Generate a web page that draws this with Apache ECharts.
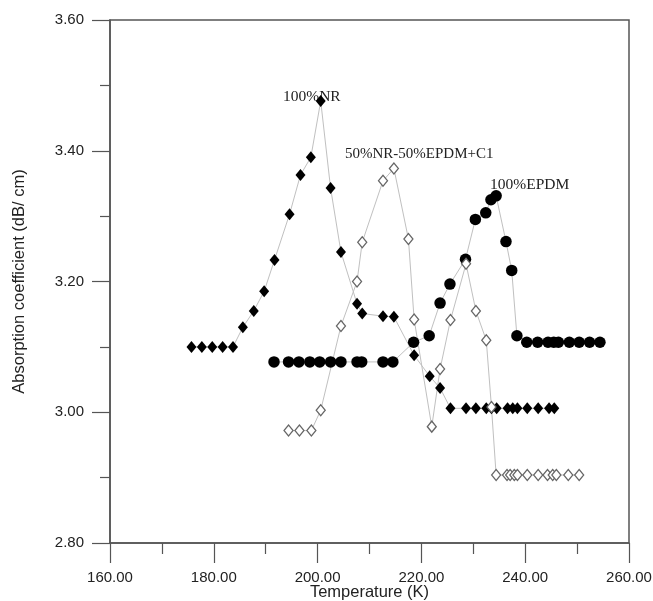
<!DOCTYPE html>
<html style="height:100%;">
<head>
    <meta charset="utf-8">
    <script src="https://cdn.jsdelivr.net/npm/echarts@6/dist/echarts.min.js"></script>
</head>
<body style="height:100%;margin:0;background:#fff;">
    <div id="main" style="width:653px;height:601px;"></div>
</body>
</html>
<script>
    // 100%NR (filled diamonds)
    var nrTemp = [175.7, 177.7, 179.7, 181.7, 183.7, 185.6, 187.7, 189.7, 191.7, 194.6, 196.7, 198.7, 200.6, 202.5,
        204.5, 207.6, 208.6, 212.6, 214.7, 218.6, 221.6, 223.6, 225.6, 228.6, 230.5, 232.5, 233.5, 234.5,
        236.6, 237.6, 238.5, 240.4, 242.5, 244.6, 245.6];
    var nrValue = [3.10, 3.10, 3.10, 3.10, 3.10, 3.13, 3.155, 3.185, 3.233, 3.303, 3.363, 3.39, 3.476, 3.343,
        3.245, 3.166, 3.151, 3.147, 3.146, 3.087, 3.055, 3.037, 3.006, 3.006, 3.006, 3.006, 3.006, 3.006,
        3.006, 3.006, 3.006, 3.006, 3.006, 3.006, 3.006];

    // 50%NR-50%EPDM+C1 (open diamonds)
    var blendTemp = [194.4, 196.5, 198.8, 200.6, 204.5, 207.6, 208.6, 212.6, 214.7, 217.5, 218.6, 222.0, 223.6,
        225.6, 228.6, 230.5, 232.5, 233.5, 234.4, 236.5, 237.1, 237.9, 238.5, 240.4, 242.5, 244.3, 245.3,
        246.0, 248.3, 250.4];
    var blendValue = [2.972, 2.972, 2.972, 3.003, 3.132, 3.200, 3.260, 3.354, 3.373, 3.265, 3.142, 2.978, 3.066,
        3.141, 3.227, 3.155, 3.110, 3.008, 2.904, 2.904, 2.904, 2.904, 2.904, 2.904, 2.904, 2.904, 2.904,
        2.904, 2.904, 2.904];

    // 100%EPDM (filled circles)
    var epdmTemp = [191.6, 194.4, 196.4, 198.5, 200.4, 202.5, 204.5, 207.6, 208.5, 212.6, 214.5, 218.5, 221.5,
        223.6, 225.5, 228.5, 230.4, 232.4, 233.4, 234.4, 236.3, 237.4, 238.4, 240.3, 242.4, 244.4, 245.5,
        246.4, 248.5, 250.4, 252.4, 254.4];
    var epdmValue = [3.077, 3.077, 3.077, 3.077, 3.077, 3.077, 3.077, 3.077, 3.077, 3.077, 3.077, 3.107, 3.117,
        3.167, 3.196, 3.234, 3.295, 3.305, 3.325, 3.331, 3.261, 3.217, 3.117, 3.107, 3.107, 3.107, 3.107,
        3.107, 3.107, 3.107, 3.107, 3.107];

    function pairs(xs, ys) {
        var out = [];
        for (var i = 0; i < xs.length; i++) out.push([xs[i], ys[i]]);
        return out;
    }

    var lineGray = '#c0c0c0';
    var axisColor = '#555';

    var myChart = echarts.init(document.getElementById('main'), null, {renderer: 'canvas'});
    var option = {
        backgroundColor: '#fff',
        animation: false,
        grid: {
            left: 110, right: 24, top: 20, bottom: 58,
            outerBoundsMode: 'none',
            show: true, borderColor: axisColor, borderWidth: 1.5, backgroundColor: 'transparent'
        },
        xAxis: {
            type: 'value',
            min: 160, max: 260, interval: 20,
            name: 'Temperature (K)',
            nameLocation: 'middle',
            nameGap: 41,
            nameMoveOverlap: false,
            nameTextStyle: {fontFamily: 'Liberation Sans', fontSize: 16.5, color: '#222'},
            axisLine: {lineStyle: {color: axisColor, width: 1.5}},
            axisTick: {length: 20, lineStyle: {color: axisColor, width: 1.2}},
            minorTick: {show: true, splitNumber: 2, length: 11, lineStyle: {color: axisColor, width: 1.2}},
            splitLine: {show: false},
            axisLabel: {
                margin: 27, fontFamily: 'Liberation Sans', fontSize: 15, color: '#222',
                formatter: function (v) { return v.toFixed(2); }
            }
        },
        yAxis: {
            type: 'value',
            min: 2.8, max: 3.6, interval: 0.2,
            name: 'Absorption coefficient (dB/ cm)',
            nameLocation: 'middle',
            nameGap: 82,
            nameMoveOverlap: false,
            nameTextStyle: {fontFamily: 'Liberation Sans', fontSize: 16.5, color: '#222'},
            axisLine: {lineStyle: {color: axisColor, width: 1.5}},
            axisTick: {length: 18, lineStyle: {color: axisColor, width: 1.2}},
            minorTick: {show: true, splitNumber: 2, length: 10, lineStyle: {color: axisColor, width: 1.2}},
            splitLine: {show: false},
            axisLabel: {
                margin: 26, fontFamily: 'Liberation Sans', fontSize: 15, color: '#222',
                formatter: function (v) { return v.toFixed(2); }
            }
        },
        series: [
            {
                name: '100%EPDM',
                type: 'line',
                data: pairs(epdmTemp, epdmValue),
                symbol: 'circle',
                symbolSize: 11.5,
                lineStyle: {color: lineGray, width: 1},
                itemStyle: {color: '#000'}
            },
            {
                name: '100%NR',
                type: 'line',
                data: pairs(nrTemp, nrValue),
                symbol: 'diamond',
                symbolSize: [10, 12],
                lineStyle: {color: lineGray, width: 1},
                itemStyle: {color: '#000'}
            },
            {
                name: '50%NR-50%EPDM+C1',
                type: 'line',
                data: pairs(blendTemp, blendValue),
                symbol: 'diamond',
                symbolSize: [9, 11],
                lineStyle: {color: lineGray, width: 1},
                itemStyle: {color: '#fff', borderColor: '#666', borderWidth: 1.3}
            }
        ],
        graphic: [
            {type: 'text', left: 283, top: 89,
                style: {text: '100%NR', font: '15.5px "Liberation Serif"', fill: '#222'}},
            {type: 'text', left: 345, top: 147,
                style: {text: '50%NR-50%EPDM+C1', font: '15px "Liberation Serif"', fill: '#222'}},
            {type: 'text', left: 490, top: 177,
                style: {text: '100%EPDM', font: '15.5px "Liberation Serif"', fill: '#222'}}
        ]
    };
    myChart.setOption(option);
</script>
